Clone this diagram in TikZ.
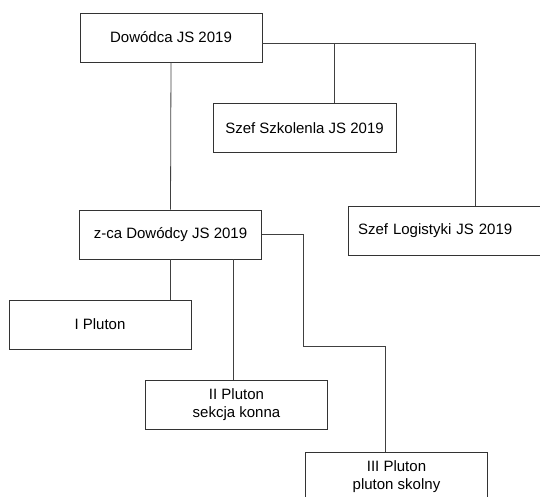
\documentclass[tikz,border=0pt]{standalone}
\usepackage{fontspec}
\setmainfont{Liberation Sans}
\usetikzlibrary{positioning}

\tikzset{
  unitbox/.style={draw=black!80, line width=0.8pt, minimum width=182pt, minimum height=49pt,
    inner sep=0pt, align=center, font=\fontsize{15}{17.5}\selectfont},
  link/.style={draw=black!75, line width=0.8pt}
}

\begin{document}
\begin{tikzpicture}[x=1pt, y=-1pt]
        % Page frame
        \useasboundingbox (0,0) rectangle (540,497);
        \clip (0,0) rectangle (540,497);

        % Command boxes
        \node[unitbox] (dow) at (171,37.5) {Dowódca JS 2019};
        \node[unitbox, minimum width=183pt] (szk) at (304.5,128) {Szef Szkolenla JS 2019};
        \node[unitbox] (zca) at (170.5,234.5) {z-ca Dowódcy JS 2019};
        \node[unitbox, minimum width=200pt, text width=180pt, align=left] (log) at (448,230.5) {Szef Logistyki JS 2019};

        % Platoons
        \node[unitbox] (ip1) at (100,324.5) {I Pluton};
        \node[unitbox] (ip2) at (236.5,404.5) {II Pluton\\sekcja konna};
        \node[unitbox] (ip3) at (396.5,476.5) {III Pluton\\pluton skolny};

        % Links from the commander
        \draw[link] (dow.south) -- (zca.north);
        \draw[link] ([yshift=-5.5pt]dow.east) -| ([xshift=128pt]log.north west);
        \draw[link] ([xshift=122pt]szk.north west) -- ([xshift=122pt]szk.north west |- 0,43);

        % Links from the deputy
        \draw[link] (zca.south) -- (zca.south |- ip1.north);
        \draw[link] ([xshift=-3.5pt]ip2.north |- zca.south) -- ([xshift=-3.5pt]ip2.north);
        \coordinate (bend) at (303,346);
        \draw[link] (zca.east) -| (bend) -| ([xshift=-11.5pt]ip3.north);
\end{tikzpicture}
\end{document}
